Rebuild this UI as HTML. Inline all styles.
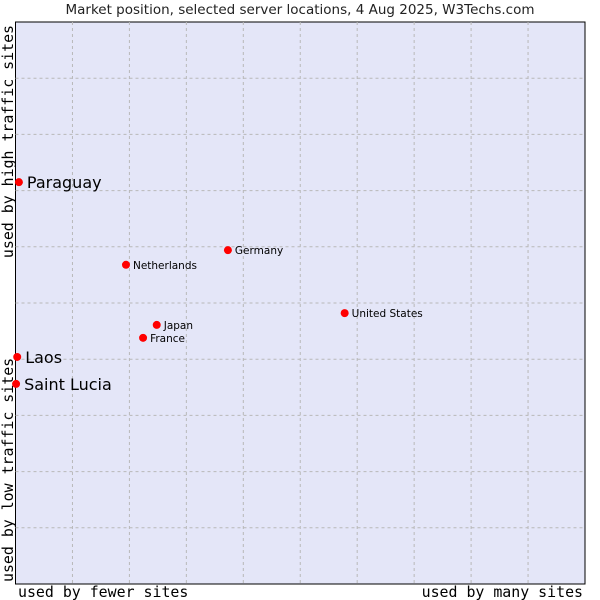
<!DOCTYPE html>
<html><head><meta charset="utf-8"><style>
body{margin:0;background:#fff;width:600px;height:600px;overflow:hidden}
svg{display:block}
</style></head><body>
<svg id="chart" width="600" height="600" xmlns="http://www.w3.org/2000/svg">
<text x="300" y="14" text-anchor="middle" font-family="DejaVu Sans, sans-serif" font-size="13.5" fill="#222">Market position, selected server locations, 4 Aug 2025, W3Techs.com</text>
<rect x="15.5" y="22" width="569.5" height="562" fill="#e4e6f8" stroke="#000" stroke-width="1"/>
<g id="grid"></g>
<text x="18" y="597" font-family="DejaVu Sans Mono, monospace" font-size="14.9" fill="#000">used by fewer sites</text>
<text x="583" y="597" text-anchor="end" font-family="DejaVu Sans Mono, monospace" font-size="14.9" fill="#000">used by many sites</text>
<text transform="translate(13,25) rotate(-90)" text-anchor="end" font-family="DejaVu Sans Mono, monospace" font-size="14.9" fill="#000">used by high traffic sites</text>
<text transform="translate(13,582) rotate(-90)" font-family="DejaVu Sans Mono, monospace" font-size="14.9" fill="#000">used by low traffic sites</text>
<g id="points"></g>
</svg>
<script>
const names=["Paraguay","Laos","Saint Lucia","Netherlands","Germany","United States","Japan","France"];
const xVals=[0.6,0.3,0.1,19.4,37.3,57.8,24.8,22.4];
const yVals=[71.5,40.4,35.6,56.8,59.4,48.2,46.1,43.8];
const big=[true,true,true,false,false,false,false,false];
const NS="http://www.w3.org/2000/svg";
const X0=15.5,X1=585,Y0=584,Y1=22;
const xs=v=>X0+(X1-X0)*v/100, ys=v=>Y0-(Y0-Y1)*v/100;
const grid=document.getElementById('grid');
for(let i=1;i<10;i++){
  let l=document.createElementNS(NS,'line');
  
  
  let x=xs(i*10);
  l.setAttribute('x1',x);l.setAttribute('x2',x);l.setAttribute('y1',Y1);l.setAttribute('y2',Y0);
  l.setAttribute('stroke','#b8b8b8');l.setAttribute('stroke-dasharray','3,3');
  grid.appendChild(l);
  let h=document.createElementNS(NS,'line');
  
  
  let y=ys(i*10);
  h.setAttribute('x1',X0);h.setAttribute('x2',X1);h.setAttribute('y1',y);h.setAttribute('y2',y);
  h.setAttribute('stroke','#b8b8b8');h.setAttribute('stroke-dasharray','3,3');
  grid.appendChild(h);
}
const pts=document.getElementById('points');
names.forEach((n,i)=>{
  const x=xs(xVals[i]),y=ys(yVals[i]);
  const c=document.createElementNS(NS,'circle');
  
  
  c.setAttribute('cx',x);c.setAttribute('cy',y);c.setAttribute('r',4);c.setAttribute('fill','#ff0000');
  pts.appendChild(c);
  const t=document.createElementNS(NS,'text');
  
  
  t.setAttribute('x',x+(big[i]?8:7));t.setAttribute('y',y+(big[i]?6:4));
  t.setAttribute('font-family','DejaVu Sans, sans-serif');
  t.setAttribute('font-size',big[i]?16:10.5);t.setAttribute('fill','#000');
  t.textContent=n;
  pts.appendChild(t);
});
</script>
</body></html>
